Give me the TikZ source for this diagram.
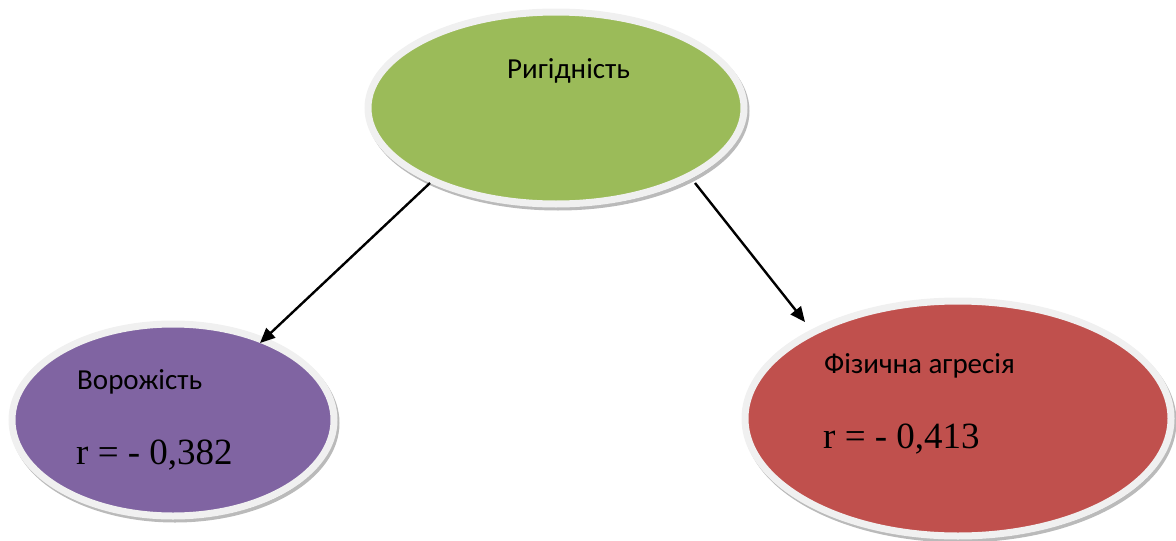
\documentclass[tikz,border=0pt]{standalone}
\usepackage{fontspec}
\setmainfont{Liberation Serif}
\newfontfamily\calib{Carlito}
\usetikzlibrary{shapes.geometric,arrows.meta,shadows,calc}
\definecolor{cgreen}{HTML}{9BBB59}
\definecolor{cpurple}{HTML}{8064A2}
\definecolor{cred}{HTML}{C0504D}
\definecolor{ring}{HTML}{F0F0F0}
\tikzset{
  oval/.style={ellipse, inner sep=0pt, outer sep=0pt, draw=ring, line width=7pt,
    drop shadow={shadow xshift=2pt, shadow yshift=-3pt, fill=black!45, draw=black!45, line width=7pt, opacity=0.6}},
  lbl/.style={anchor=base west, inner sep=0pt, font=\calib\fontsize{29}{34}\selectfont},
  rval/.style={anchor=base west, inner sep=0pt, font=\fontsize{37}{42}\selectfont},
  arr/.style={line width=2.4pt, -{Triangle[length=15pt,width=13pt]}}
}
\begin{document}
\begin{tikzpicture}[x=1pt,y=-1pt]
\useasboundingbox (0,0) rectangle (1176,541);
\node[oval, fill=cgreen, minimum width=376pt, minimum height=192pt] (top) at (556,108) {};
\node[oval, fill=cpurple, minimum width=322pt, minimum height=192pt] (left) at (173,420) {};
\node[oval, fill=cred, minimum width=426pt, minimum height=235pt] (right) at (958,418.5) {};
\node[lbl] (t1) at (507,78) {Ригідність};
\node[lbl] (t2) at (77,389) {Ворожість};
\node[rval] (t3) at (76,464) {r = - 0,382};
\node[lbl] (t4) at (824,373) {Фізична агресія};
\node[rval] (t5) at (823,448) {r = - 0,413};
\draw[arr] ($(top.center)+(-126,75)$) -- ($(left.center)+(87,-77)$);
\draw[arr] ($(top.center)+(139,75)$) -- ($(right.center)+(-153,-96.5)$);
\end{tikzpicture}
\end{document}
